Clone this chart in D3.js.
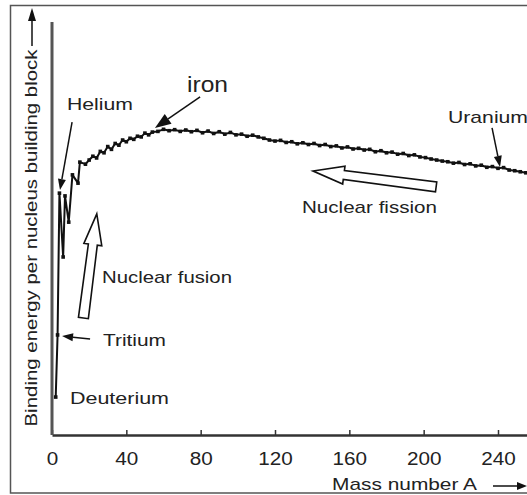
<!DOCTYPE html>
<html>
<head>
<meta charset="utf-8">
<script src="https://cdn.jsdelivr.net/npm/d3@7"></script>
<style>
  body { margin: 0; background: #fff; }
  text { font-family: "Liberation Sans", Arial, sans-serif; fill: #222; }
</style>
</head>
<body>
<div class="plot"></div>
<script>
// Mass number A and binding energy per nucleon (MeV)
const massNumbers = [2, 3, 4, 6, 7, 9, 11, 14, 15, 18, 20, 22, 24, 26, 28, 30, 32, 34, 36, 38,
  40, 42, 44, 46, 48, 50, 52, 54, 57, 60, 63, 66, 69, 72, 75, 78, 81, 84, 87, 90, 93, 96, 99,
  102, 105, 108, 111, 114, 117, 120, 123, 126, 129, 132, 135, 138, 141, 144, 147, 150, 153,
  156, 159, 162, 165, 168, 171, 174, 177, 180, 183, 186, 189, 192, 195, 198, 201, 204, 207,
  210, 213, 216, 219, 222, 225, 228, 231, 234, 237, 240, 243, 246, 249, 252, 255, 258];
const bindingEnergy = [1.10, 2.90, 7.01, 5.16, 6.93, 6.17, 7.54, 7.30, 7.91, 7.85, 7.97, 8.08,
  8.03, 8.22, 8.18, 8.36, 8.28, 8.45, 8.40, 8.55, 8.50, 8.60, 8.57, 8.66, 8.64, 8.75, 8.70, 8.78,
  8.80, 8.86, 8.82, 8.85, 8.80, 8.84, 8.79, 8.83, 8.76, 8.81, 8.74, 8.79, 8.72, 8.77, 8.70,
  8.72, 8.66, 8.69, 8.64, 8.60, 8.55, 8.52, 8.54, 8.48, 8.50, 8.44, 8.47, 8.42, 8.45, 8.39,
  8.42, 8.36, 8.38, 8.32, 8.35, 8.29, 8.31, 8.26, 8.28, 8.21, 8.24, 8.18, 8.20, 8.14, 8.16,
  8.10, 8.12, 8.06, 8.04, 8.00, 7.97, 7.94, 7.92, 7.88, 7.90, 7.84, 7.86, 7.80, 7.82, 7.76,
  7.78, 7.73, 7.75, 7.68, 7.66, 7.63, 7.60, 7.58];
const xTicks = [0, 40, 80, 120, 160, 200, 240];

// Labelled nuclides: label, arrow start [A, E], arrow end [A, E]
const pointers = [
  { name: "Helium", from: [10.8, 9.07], to: [4.3, 7.10] },
  { name: "iron", from: [79.7, 9.80], to: [55.4, 8.90] },
  { name: "Uranium", from: [236.8, 8.90], to: [241.1, 7.77] },
  { name: "Tritium", from: [20.5, 2.78], to: [5.4, 2.87] }
];
// hollow process arrows: tail [A, E] -> tip [A, E]
const processArrows = [
  { name: "Nuclear fusion", tail: [16.9, 3.39], tip: [24.1, 6.41] },
  { name: "Nuclear fission", tail: [206.7, 7.19], tip: [140.5, 7.65] }
];

const W = 527, H = 495;
const svg = d3.select(".plot").append("svg")
    .attr("width", W)
    .attr("height", H);

// frame around the figure
svg.append("rect")
    .attr("x", 10.5).attr("y", 5.5)
    .attr("width", 530).attr("height", 487.5)
    .attr("fill", "none")
    .attr("stroke", "#555")
    .attr("stroke-width", 1.5);

const x = d3.scaleLinear().domain([0, 256]).range([52, 52 + 256 * 446 / 240]);
const y = d3.scaleLinear().domain([0, 12]).range([435, 21]);

// x axis with small upward ticks
const xAxis = svg.append("g")
    .attr("transform", "translate(0,435)")
    .call(d3.axisBottom(x).tickValues(xTicks).tickSize(-5).tickPadding(17).tickSizeOuter(0));
xAxis.select(".domain").attr("stroke", "#333").attr("stroke-width", 2.5);
xAxis.selectAll(".tick line").attr("stroke", "#333").attr("stroke-width", 1.5);
xAxis.selectAll("text")
    .style("font-size", "18px")
    .style("font-family", "'Liberation Sans', Arial, sans-serif")
    .attr("fill", "#222")
    .attr("textLength", d => String(d).length * 11.5)
    .attr("lengthAdjust", "spacingAndGlyphs");

// y axis, no ticks
svg.append("line")
    .attr("x1", 52).attr("x2", 52)
    .attr("y1", y(11.97)).attr("y2", y(0))
    .attr("stroke", "#555")
    .attr("stroke-width", 3);

// axis titles
svg.append("text")
    .attr("x", 332).attr("y", 490)
    .attr("textLength", 145).attr("lengthAdjust", "spacingAndGlyphs")
    .style("font-size", "17px")
    .text("Mass number A");
svg.append("text")
    .attr("transform", "translate(37,238) rotate(-90)")
    .attr("text-anchor", "middle")
    .attr("textLength", 377).attr("lengthAdjust", "spacingAndGlyphs")
    .style("font-size", "17px")
    .text("Binding energy per nucleus building block");

// solid arrow helper (pixel coords)
function solidArrow(x1, y1, x2, y2, headLen, headHalf, width) {
    const dx = x2 - x1, dy = y2 - y1, len = Math.hypot(dx, dy);
    const ux = dx / len, uy = dy / len, nx = -uy, ny = ux;
    const bx = x2 - ux * headLen, by = y2 - uy * headLen;
    svg.append("line")
        .attr("x1", x1).attr("y1", y1).attr("x2", bx).attr("y2", by)
        .attr("stroke", "#111").attr("stroke-width", width);
    svg.append("polygon")
        .attr("points", [[x2, y2], [bx + nx * headHalf, by + ny * headHalf], [bx - nx * headHalf, by - ny * headHalf]].join(" "))
        .attr("fill", "#111");
}

// axis title arrows
solidArrow(32, 46, 32, 8, 13, 4, 1.5);
solidArrow(493, 486, 527, 486, 10, 4, 1.5);

// curve
const line = d3.line().x(d => x(d[0])).y(d => y(d[1]));
const pts = massNumbers.map((a, i) => [a, bindingEnergy[i]]);
svg.append("path")
    .datum(pts)
    .attr("d", line)
    .attr("fill", "none")
    .attr("stroke", "#111")
    .attr("stroke-width", 2)
    .attr("stroke-linejoin", "round");
svg.selectAll("rect.pt")
    .data(pts)
    .enter().append("rect")
    .attr("class", "pt")
    .attr("x", d => x(d[0]) - 1.8)
    .attr("y", d => y(d[1]) - 1.8)
    .attr("width", 3.6).attr("height", 3.6)
    .attr("fill", "#111");

// pointer arrows
pointers.forEach(p => {
    const big = p.name === "iron";
    solidArrow(x(p.from[0]), y(p.from[1]), x(p.to[0]), y(p.to[1]), big ? 16 : 11, big ? 6 : 4, 1.5);
});

// hollow process arrows
function hollowArrow(t, h, headLen, headHalf, shaftHalf, tailHalf) {
    const dx = h[0] - t[0], dy = h[1] - t[1], len = Math.hypot(dx, dy);
    const ux = dx / len, uy = dy / len, nx = -uy, ny = ux;
    const bx = h[0] - ux * headLen, by = h[1] - uy * headLen;
    const p = [
        h,
        [bx + nx * headHalf, by + ny * headHalf],
        [bx + nx * shaftHalf, by + ny * shaftHalf],
        [t[0] + nx * tailHalf, t[1] + ny * tailHalf],
        [t[0] - nx * tailHalf, t[1] - ny * tailHalf],
        [bx - nx * shaftHalf, by - ny * shaftHalf],
        [bx - nx * headHalf, by - ny * headHalf]
    ];
    svg.append("polygon")
        .attr("points", p.join(" "))
        .attr("fill", "#fff")
        .attr("stroke", "#111")
        .attr("stroke-width", 1.6)
        .attr("stroke-linejoin", "miter");
}
processArrows.forEach(a => {
    hollowArrow([x(a.tail[0]), y(a.tail[1])], [x(a.tip[0]), y(a.tip[1])], 31, 9, 4.5, 5);
});

// labels
const labels = [
    { text: "Helium", x: 67, y: 110, w: 66, size: 17 },
    { text: "iron", x: 187, y: 92, w: 41, size: 22 },
    { text: "Uranium", x: 448, y: 123, w: 80, size: 17 },
    { text: "Nuclear fission", x: 302, y: 213, w: 135, size: 17 },
    { text: "Nuclear fusion", x: 102, y: 283, w: 130, size: 17 },
    { text: "Tritium", x: 103, y: 346, w: 63, size: 17 },
    { text: "Deuterium", x: 70, y: 404, w: 99, size: 17 }
];
svg.selectAll("text.lbl")
    .data(labels)
    .enter().append("text")
    .attr("class", "lbl")
    .attr("x", d => d.x).attr("y", d => d.y)
    .attr("textLength", d => d.w)
    .attr("lengthAdjust", "spacingAndGlyphs")
    .style("font-size", d => d.size + "px")
    .text(d => d.text);
</script>
</body>
</html>
